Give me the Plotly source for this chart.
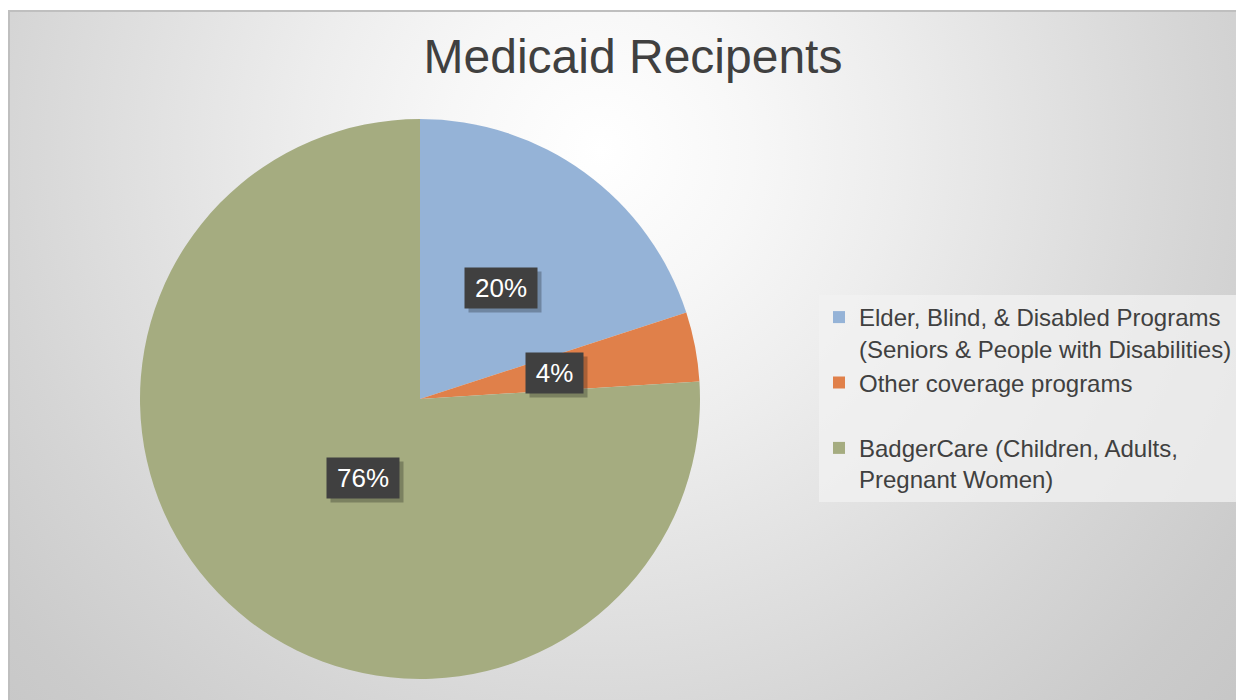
import math
import plotly.graph_objects as go

# ---- data ----
title_text = "Medicaid Recipents"
categories = [
    "Elder, Blind, & Disabled Programs<br>(Seniors & People with Disabilities)",
    "Other coverage programs<br>\u00a0",
    "BadgerCare (Children, Adults,<br>Pregnant Women)",
]
values = [20, 4, 76]
slice_colors = ["#95B3D7", "#E0804A", "#A5AC80"]
label_widths = [70, 55, 70]

# ---- page geometry (page pixels; the page body has an 8px margin) ----
PAGE_OFF = 8
W, H = 1244 - PAGE_OFF, 700 - PAGE_OFF
BG_L, BG_T = 10, 12          # chart-area top-left on the page
PW, PH = 1244 - BG_L, 700 - BG_T


def px_x(px):
    return (px - BG_L) / PW


def px_y(py):
    return (700 - py) / PH


PIE_CX, PIE_CY, PIE_R = 420, 399, 280
dom_x = [px_x(PIE_CX - PIE_R), px_x(PIE_CX + PIE_R)]
dom_y = [px_y(PIE_CY + PIE_R), px_y(PIE_CY - PIE_R)]

fig = go.Figure()

# background: radial gradient, square so it stays circular
GC_X, GC_Y, GS = 600, 150, 900
fig.add_trace(go.Scatter(
    x=[GC_X - GS, GC_X + GS, GC_X + GS, GC_X - GS, GC_X - GS],
    y=[GC_Y - GS, GC_Y - GS, GC_Y + GS, GC_Y + GS, GC_Y - GS],
    mode="lines",
    fill="toself",
    fillgradient=dict(type="radial",
                      colorscale=[[0, "#ffffff"], [0.17, "#f7f7f7"],
                                  [0.33, "#ededed"], [0.5, "#e1e1e1"],
                                  [0.67, "#d5d5d5"], [0.83, "#cbcbcb"],
                                  [1, "#c4c4c4"]]),
    line=dict(width=0),
    hoverinfo="skip",
    showlegend=False,
))

fig.add_trace(go.Pie(
    labels=categories,
    values=values,
    marker=dict(colors=slice_colors, line=dict(width=0)),
    sort=False,
    direction="clockwise",
    rotation=0,
    textinfo="none",
    hoverinfo="label+percent",
    domain=dict(x=dom_x, y=dom_y),
))

# data label boxes at the slice mid-angles
total = sum(values)
cum = 0
annotations = []
for v, w in zip(values, label_widths):
    mid = (cum + v / 2) / total * 2 * math.pi
    cum += v
    lx = PIE_CX + 0.49 * PIE_R * math.sin(mid)
    ly = PIE_CY - 0.49 * PIE_R * math.cos(mid)
    txt = f"{round(v / total * 100)}%"
    common = dict(x=px_x(lx), y=px_y(ly), xref="paper", yref="paper",
                  showarrow=False, width=w, height=38, align="center",
                  valign="middle")
    annotations.append(dict(common, text=" ", bgcolor="rgba(0,0,0,0.25)",
                            xshift=4, yshift=-4,
                            font=dict(size=26, color="rgba(0,0,0,0)")))
    annotations.append(dict(common, text=txt, bgcolor="#404040",
                            font=dict(family="Liberation Sans, Arial", size=26,
                                      color="#ffffff")))

axis_common = dict(showgrid=False, zeroline=False, showticklabels=False,
                   ticks="", showline=True, mirror=False, linecolor="#bfbfbf",
                   linewidth=1.5, fixedrange=True)

fig.update_layout(
    width=W, height=H,
    margin=dict(l=BG_L - PAGE_OFF, t=BG_T - PAGE_OFF, r=0, b=0),
    paper_bgcolor="#ffffff",
    plot_bgcolor="#c8c8c8",
    xaxis=dict(axis_common, range=[BG_L, 1244], side="top"),
    yaxis=dict(axis_common, range=[700, BG_T], side="left"),
    title=dict(text=title_text, x=px_x(634), xanchor="center",
               y=(H - (56 - PAGE_OFF)) / H, yanchor="middle",
               font=dict(family="Liberation Sans, Arial", size=48, color="#404040")),
    legend=dict(x=px_x(819), xanchor="left", y=px_y(295), yanchor="top",
                bgcolor="rgba(242,242,242,0.75)", valign="top",
                font=dict(family="Liberation Sans, Arial", size=24, color="#404040"),
                itemclick=False),
    annotations=annotations,
    showlegend=True,
)

fig.write_html("out.html")
